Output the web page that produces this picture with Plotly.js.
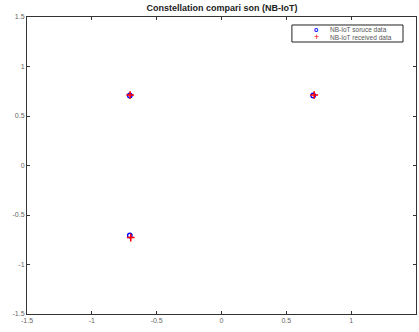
<!DOCTYPE html>
<html><head><meta charset="utf-8">
<script src="https://cdn.plot.ly/plotly-3.0.1.min.js"></script>
<style>html,body{margin:0;padding:0;background:#fff}#chart{width:419px;height:332px}</style>
</head><body><div id="chart"></div>
<script>
const sourceI = [-0.7071, 0.7071, -0.7071];
const sourceQ = [0.7071, 0.7071, -0.7071];
const recvI = [-0.705, 0.715, -0.700];
const recvQ = [0.712, 0.712, -0.728];
const tickVals = [-1.5, -1, -0.5, 0, 0.5, 1, 1.5];
const tickText = ['-1.5', '-1', '-0.5', '0', '0.5', '1', '1.5'];
const seriesNames = ['NB-IoT soruce data', 'NB-IoT received data'];
const seriesColors = ['#0000ff', '#ff0000'];

const traces = [
  {x: sourceI, y: sourceQ, type: 'scatter', mode: 'markers', name: seriesNames[0],
   marker: {symbol: 'circle-open', color: seriesColors[0], size: 4.5, line: {width: 1.3, color: seriesColors[0]}}},
  {x: recvI, y: recvQ, type: 'scatter', mode: 'markers', name: seriesNames[1],
   marker: {symbol: 'cross-thin-open', color: seriesColors[1], size: 5.5, line: {width: 1.6, color: seriesColors[1]}}}
];
const font = 'Arial, Liberation Sans';
const axisCommon = {
  range: [-1.5, 1.5], tickvals: tickVals, ticktext: tickText, ticks: 'inside', ticklen: 3,
  tickcolor: '#333', showline: true, linecolor: '#333', linewidth: 1, mirror: 'ticks',
  showgrid: false, zeroline: false, tickfont: {family: font, size: 7, color: '#666'},
  fixedrange: true
};
const lx0 = 0.681, lx1 = 0.9666, ly0 = 0.9158, ly1 = 0.9731;
const rowY = [0.9579, 0.9310];
const annotations = [];
seriesNames.forEach((n, i) => {
  annotations.push({xref: 'paper', yref: 'paper', x: 0.776, y: rowY[i], xanchor: 'left', yanchor: 'middle',
    text: n, showarrow: false, borderpad: 0, font: {family: font, size: 6.5, color: '#555'}});
  annotations.push({xref: 'paper', yref: 'paper', x: 0.743, y: rowY[i], xanchor: 'center', yanchor: 'middle',
    text: i === 0 ? '<b>o</b>' : '+', showarrow: false, borderpad: 0, font: {family: font, size: i === 0 ? 7 : 9, color: seriesColors[i]}});
});
const layout = {
  width: 419, height: 332,
  margin: {l: 27, r: 3, t: 17, b: 18},
  paper_bgcolor: '#fff', plot_bgcolor: '#fff',
  title: {text: '<b>Constellation compari son (NB-IoT)</b>', font: {family: font, size: 9, color: '#222'},
          x: 0.53, xanchor: 'center', y: 0.985, yanchor: 'top'},
  xaxis: Object.assign({}, axisCommon),
  yaxis: Object.assign({}, axisCommon),
  showlegend: false,
  shapes: [{type: 'rect', xref: 'paper', yref: 'paper', x0: lx0, x1: lx1, y0: ly0, y1: ly1,
            line: {color: '#222', width: 1}, fillcolor: '#fff', layer: 'above'}],
  annotations: annotations
};
Plotly.newPlot('chart', traces, layout, {displayModeBar: false, staticPlot: true});
</script></body></html>
